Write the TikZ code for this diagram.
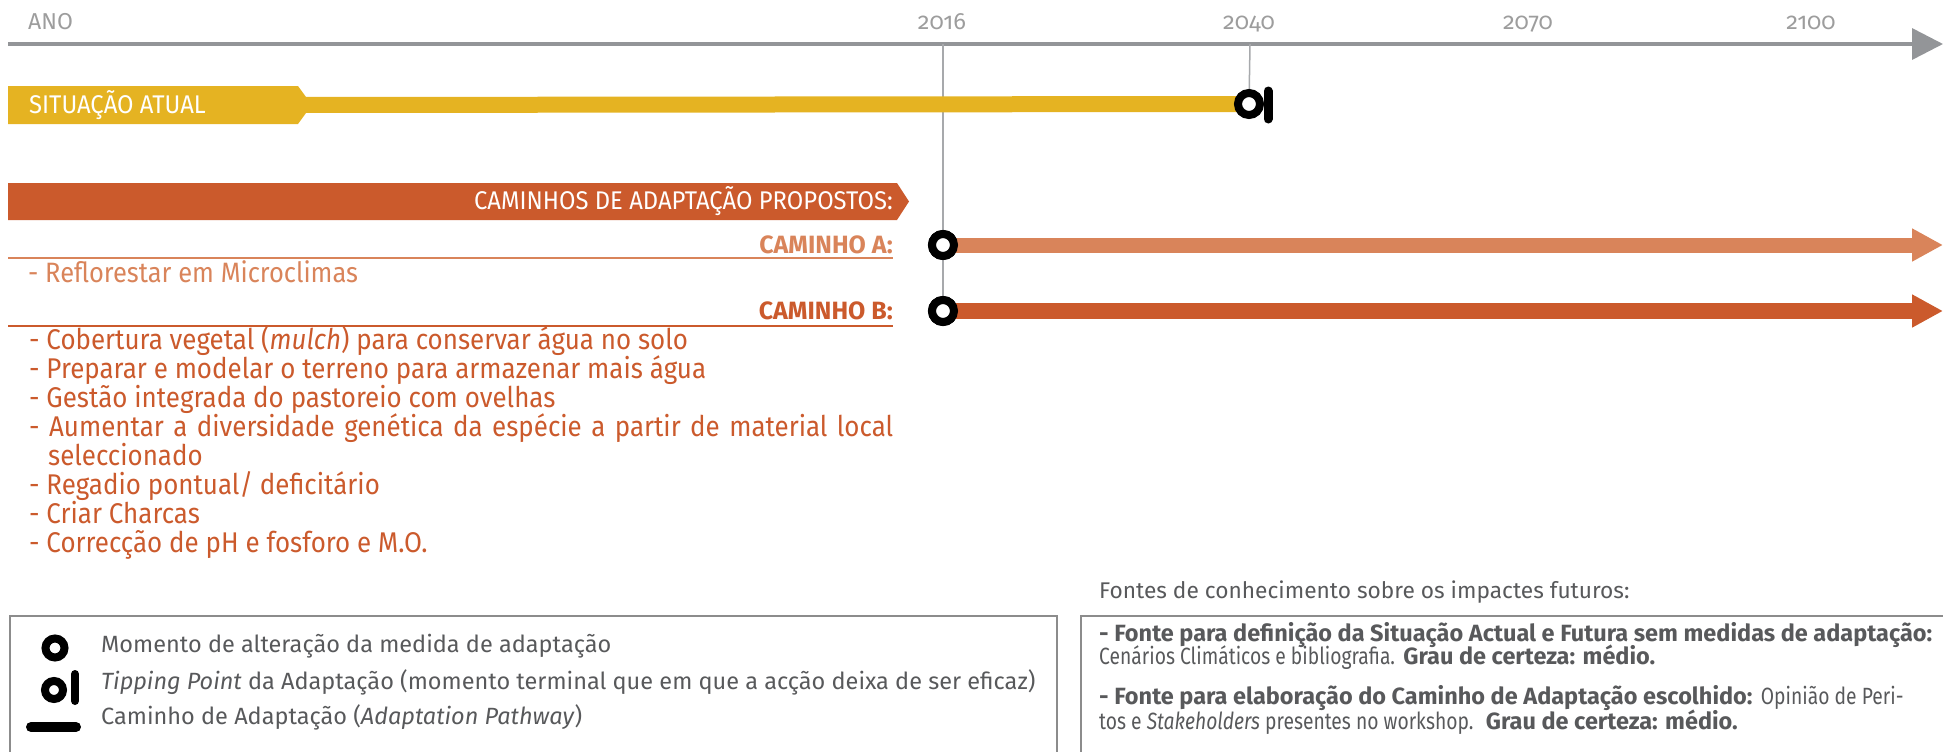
\documentclass[tikz,border=0pt]{standalone}
\usepackage{fontspec}
\setmainfont{Fira Sans}
\newfontfamily\yrfont[Numbers=OldStyle]{Fira Sans}
\newfontfamily\condfont[FakeStretch=0.91]{Fira Sans}
\newfontfamily\bannerfont[FakeStretch=0.93]{Fira Sans}
\newfontfamily\lightfont[FakeStretch=0.82]{Fira Sans}
\usetikzlibrary{arrows.meta}
\definecolor{axgray}{HTML}{939598}
\definecolor{vgray}{HTML}{A7A9AC}
\definecolor{yel}{HTML}{E5B322}
\definecolor{dor}{HTML}{CB5A2C}
\definecolor{lor}{HTML}{D9845A}
\definecolor{txt}{HTML}{58595B}
\definecolor{boxg}{HTML}{8C8C8C}
\definecolor{yeargray}{HTML}{9D9D9D}
\tikzset{
  ring/.style={circle, draw=black, line width=8pt, fill=white, minimum size=22pt, inner sep=0pt},
  tipbar/.style={line width=9pt, line cap=round, draw=black},
  bigtip/.style={-{Triangle[length=31pt,width=31pt]}},
  yeartxt/.style={anchor=base, inner sep=0pt, font=\yrfont\fontsize{23.5}{23.5}\selectfont, text=yeargray},
  bannertxt/.style={inner sep=0pt, font=\bannerfont\fontsize{25.6}{25.6}\selectfont, text=white},
  pathlabel/.style={anchor=base east, inner sep=0pt, font=\bfseries\fontsize{25}{25}\selectfont},
  item/.style={anchor=base west, inner sep=0pt, font=\condfont\fontsize{28.5}{28.5}\selectfont, text=dor},
  legtxt/.style={anchor=base west, inner sep=0pt, font=\fontsize{23.5}{23.5}\selectfont, text=txt},
  srctxt/.style={anchor=base west, inner sep=0pt, font=\fontsize{23.5}{23.5}\selectfont, text=txt},
  vline/.style={draw=vgray, line width=1.5pt},
  boxline/.style={draw=boxg, line width=1.5pt},
}
\newcommand{\lt}[1]{{\lightfont #1}}
\begin{document}
\begin{tikzpicture}[x=1pt,y=-1pt]
\useasboundingbox (0,0) rectangle (1943,752);
% axis
\coordinate (axS) at (8,44);
\coordinate (axE) at (1943,44);
\draw[draw=axgray, line width=3.5pt, bigtip] (axS) -- (axE);
\node[anchor=base west, inner sep=0pt, font=\fontsize{23}{23}\selectfont, text=yeargray] (ano) at (28,30) {ANO};
\node[yeartxt] (y2016) at (942,30) {2016};
\node[yeartxt] (y2040) at (1249,30) {2040};
\node[yeartxt] (y2070) at (1528,30) {2070};
\node[yeartxt] (y2100) at (1811,30) {2100};
% vertical guides
\coordinate (v16top) at (943,44);
\coordinate (v40top) at (1250,44);
\node[ring] (ringA) at (943,245) {};
\node[ring] (ringB) at (943,311) {};
\draw[vline] (v16top) -- (ringB.center);
\coordinate (tipC) at (1249,104);
\draw[vline] (v40top) -- (tipC);
% situacao atual
\fill[yel] (8,86) -- (298,86) -- (306,97) -- (306,113) -- (298,124) -- (8,124) -- cycle;
\coordinate (barS) at (300,105);
\draw[draw=yel, line width=16pt] (barS) -- (tipC);
\node[bannertxt, anchor=base west] (sit) at (29,113) {SITUAÇÃO ATUAL};
\node[ring] (tipring) at (tipC) {};
\coordinate (tbT) at (1268,91);
\coordinate (tbB) at (1268,119);
\draw[tipbar] (tbT) -- (tbB);
% caminhos banner
\fill[dor] (8,183) -- (897,183) -- (909,201.5) -- (897,220) -- (8,220) -- cycle;
\node[bannertxt, anchor=base east] (cam) at (893,209) {CAMINHOS DE ADAPTAÇÃO PROPOSTOS:};
% caminho A and B arrows
\coordinate (aE) at (1943,245);
\coordinate (bE) at (1943,311);
\draw[draw=lor, line width=15pt, bigtip] (ringA.center) -- (aE);
\draw[draw=dor, line width=16pt, bigtip] (ringB.center) -- (bE);
\node[ring] at (ringA) {};
\node[ring] at (ringB) {};
\node[pathlabel, text=lor] (labA) at (893,253) {CAMINHO A:};
\coordinate (ulAs) at (8,258);
\coordinate (ulAe) at (893,258);
\draw[draw=lor, line width=2pt] (ulAs) -- (ulAe);
\node[item, text=lor, font=\condfont\fontsize{28}{28}\selectfont] (a1) at (28,282) {- Reflorestar em Microclimas};
% caminho B
\node[pathlabel, text=dor] (labB) at (893,319) {CAMINHO B:};
\coordinate (ulBs) at (8,326);
\coordinate (ulBe) at (893,326);
\draw[draw=dor, line width=2pt] (ulBs) -- (ulBe);
\node[item] (b1) at (29,349) {- Cobertura vegetal (\textit{mulch}) para conservar água no solo};
\node[item] (b2) at (29,378) {- Preparar e modelar o terreno para armazenar mais água};
\node[item] (b3) at (29,407) {- Gestão integrada do pastoreio com ovelhas};
\node[item] (b4) at (29,436) {\makebox[864pt][s]{- Aumentar a diversidade genética da espécie a partir de material local}};
\node[item] (b5) at (48,465) {seleccionado};
\node[item] (b6) at (29,494) {- Regadio pontual/ deficitário};
\node[item] (b7) at (29,523) {- Criar Charcas};
\node[item] (b8) at (29,552) {- Correcção de pH e fosforo e M.O.};
% legend box
\draw[boxline] (10,760) -- (10,616) -- (1057,616) -- (1057,760);
\node[ring, line width=8pt, minimum size=19pt] (lring) at (55,648) {};
\node[legtxt] (l1) at (101,652) {Momento de alteração da medida de adaptação};
\node[ring, line width=8pt, minimum size=18pt] (lring2) at (54,690) {};
\coordinate (lbT) at (75,674);
\coordinate (lbB) at (75,701);
\draw[tipbar, line width=8pt] (lbT) -- (lbB);
\node[legtxt] (l2) at (101,689) {\textit{Tipping Point} da Adaptação (momento terminal que em que a acção deixa de ser eficaz)};
\coordinate (llS) at (31,727);
\coordinate (llE) at (76,727);
\draw[line width=10pt, line cap=round, draw=black] (llS) -- (llE);
\node[legtxt] (l3) at (101,724) {Caminho de Adaptação (\textit{Adaptation Pathway})};
% sources box
\node[srctxt, font=\fontsize{22.7}{22.7}\selectfont] (fh) at (1099,598) {Fontes de conhecimento sobre os impactes futuros:};
\draw[boxline] (1081,760) -- (1081,616) -- (1950,616);
\node[srctxt] (f1) at (1099,641) {\bfseries - Fonte para definição da Situação Actual e Futura sem medidas de adaptação:};
\node[srctxt] (f2) at (1099,664) {\lt{Cenários Climáticos e bibliografia.} \textbf{Grau de certeza: médio.}};
\node[srctxt] (f3) at (1099,704) {\textbf{- Fonte para elaboração do Caminho de Adaptação escolhido:} \lt{Opinião de Peri-}};
\node[srctxt] (f4) at (1099,729) {\lt{tos e \textit{Stakeholders} presentes no workshop.}\ \ \textbf{Grau de certeza: médio.}};
\end{tikzpicture}
\end{document}
